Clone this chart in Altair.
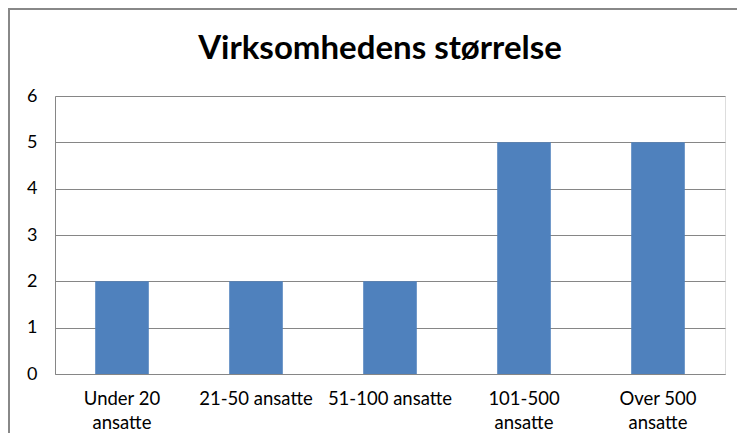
import altair as alt
import pandas as pd

title_text = "Virksomhedens størrelse"
categories = ["Under 20|ansatte", "21-50 ansatte", "51-100 ansatte", "101-500|ansatte", "Over 500|ansatte"]
values = [2, 2, 2, 5, 5]
y_ticks = [0, 1, 2, 3, 4, 5, 6]

df = pd.DataFrame({"kategori": categories, "antal": values})

FONT = "Lato, Open Sans, sans-serif"

bars = alt.Chart(df).mark_bar(color="#4F81BD").encode(
    x=alt.X(
        "kategori:N",
        sort=categories,
        title=None,
        scale=alt.Scale(paddingInner=0.6, paddingOuter=0.3),
        axis=alt.Axis(
            labelExpr="split(datum.label, '|')",
            labelAngle=0,
            labelFontSize=18.5,
            labelFont=FONT,
            labelColor="#000000",
            labelPadding=15,
            labelLineHeight=24,
            ticks=False,
            domainColor="#868686",
            grid=False,
        ),
    ),
    y=alt.Y(
        "antal:Q",
        title=None,
        scale=alt.Scale(domain=[0, 6]),
        axis=alt.Axis(
            values=y_ticks,
            labelFontSize=18,
            labelFont=FONT,
            labelColor="#000000",
            labelPadding=18,
            ticks=False,
            domainColor="#868686",
            gridColor="#868686",
            gridWidth=1,
        ),
    ),
)

frame = alt.Chart(pd.DataFrame({"a": [0]})).mark_rect(
    fill=None, stroke="#888888", strokeWidth=2
).encode(
    x=alt.value(-46), x2=alt.value(760), y=alt.value(-87), y2=alt.value(420)
)

title = alt.Chart(pd.DataFrame({"t": [title_text]})).mark_text(
    font=FONT, fontSize=33, fontWeight="bold", color="#000000",
    align="center", baseline="alphabetic",
).encode(
    text="t:N", x=alt.value(325), y=alt.value(-37)
)

chart = alt.layer(frame, bars, title).properties(
    width=670,
    height=278,
    autosize=alt.AutoSizeParams(type="none"),
    padding={"left": 47, "top": 88, "right": 12, "bottom": 59},
).configure_view(stroke=None).configure(background="white")

chart.save("out.html", embed_options={"renderer": "svg", "actions": False})
